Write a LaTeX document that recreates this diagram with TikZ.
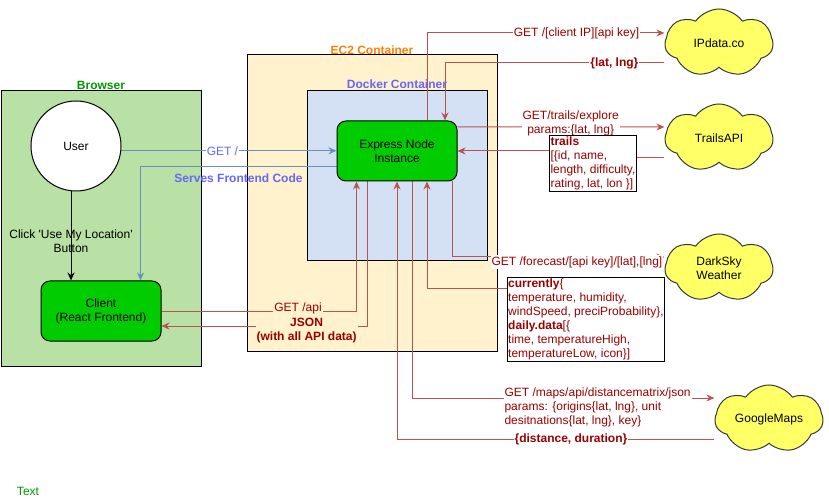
\documentclass[tikz,border=0pt]{standalone}
\usepackage{fontspec}
\setmainfont{Liberation Sans}
\usetikzlibrary{arrows.meta,shapes.symbols}
\definecolor{browserfill}{HTML}{B9E0A5}
\definecolor{ectwofill}{HTML}{FFF2CC}
\definecolor{dockerfill}{HTML}{D4E1F5}
\definecolor{nodegreen}{HTML}{00CC00}
\definecolor{cloudfill}{HTML}{FFFF66}
\definecolor{cloudline}{HTML}{36393D}
\definecolor{edgered}{HTML}{B85450}
\definecolor{textred}{HTML}{990000}
\definecolor{edgeblue}{HTML}{6C8EBF}
\definecolor{textblue}{HTML}{6666FF}
\definecolor{textorange}{HTML}{FF8000}
\definecolor{textgreen}{HTML}{009900}
\newcommand\diafont{\fontsize{12}{14}\selectfont}
\pgfdeclarelayer{boxes}
\pgfdeclarelayer{edges}
\pgfsetlayers{boxes,edges,main}
\begin{document}
\begin{tikzpicture}[x=1pt, y=-1pt, font=\diafont,
  container/.style={draw=black, line width=1pt, inner sep=0pt},
  greenbox/.style={draw=black, fill=nodegreen, rounded corners=9pt, line width=1pt, minimum width=120, minimum height=60, align=center, font=\diafont},
  service/.style={cloud, cloud puffs=7, cloud puff arc=110, cloud ignores aspect, draw=cloudline, fill=cloudfill, line width=1pt, minimum width=108, minimum height=68, align=center, font=\diafont},
  heading/.style={font=\diafont\bfseries},
  redline/.style={draw=edgered, line width=1pt},
  redarrow/.style={redline, -{Stealth[length=8pt, width=7pt]}},
  bluearrow/.style={draw=edgeblue, line width=1pt, -{Stealth[length=8pt, width=7pt]}},
  reqlabel/.style={text=textred, fill=white, inner sep=1pt, font=\diafont},
  reslabel/.style={reqlabel, font=\diafont\bfseries},
  databox/.style={draw=black, line width=1pt, fill=white, text=textred, align=left, inner xsep=1pt, inner ysep=1.5pt, anchor=west, font=\diafont}]
\useasboundingbox (0,0) rectangle (829,502);
\begin{pgfonlayer}{boxes}
\node (browser) at (101,228.5) [container, fill=browserfill, minimum width=200, minimum height=275] {};
\node (ec2) at (372,203) [container, fill=ectwofill, minimum width=250, minimum height=296] {};
\node (docker) at (397,176) [container, fill=dockerfill, minimum width=180, minimum height=170] {};
\end{pgfonlayer}
\node (browserlbl) at (101,85) [heading, text=textgreen] {Browser};
\node (ec2lbl) at (372,50) [heading, text=textorange] {EC2 Container};
\node (dockerlbl) at (397,84) [heading, text=textblue] {Docker Container};
\node (note) at (28,491.5) [text=textgreen, font=\diafont] {Text};
\node (user) at (76,146) [circle, draw=black, fill=white, line width=1pt, minimum size=90, inner sep=0pt, font=\diafont] {User};
\node (client) at (101,311) [greenbox] {Client\\(React Frontend)};
\node (express) at (397,151) [greenbox] {Express Node\\Instance};
\node (ipdata) at (719,43) [service] {IPdata.co};
\node (trails) at (719,138) [service] {TrailsAPI};
\node (darksky) at (719,268) [service] {DarkSky\\Weather};
\node (gmaps) at (769,419) [service] {GoogleMaps};
\node (trailsdata) at (549,163.5) [databox] {\textbf{trails}\\{}[\{id, name,\\length, difficulty,\\rating, lat, lon \}]};
\node (weatherdata) at (506.7,319.2) [databox] {\textbf{currently}\{\\temperature, humidity,\\windSpeed, preciProbability\},\\\textbf{daily.data}[\{\\time, temperatureHigh,\\temperatureLow, icon\}]};
\coordinate (userfoot) at ([xshift=-5pt]user.south);
\coordinate (servefrom) at ([yshift=-16pt]express.west);
\coordinate (serveto) at ([xshift=-21pt]client.north east);
\coordinate (apiin) at ([xshift=20pt]express.south west);
\coordinate (jsonout) at ([xshift=30.5pt]express.south west);
\coordinate (jsonin) at ([yshift=-15pt]client.east);
\coordinate (ipout) at ([xshift=90.5pt]express.north west);
\coordinate (ipin) at ([xshift=108.5pt]express.north west);
\coordinate (trailsin) at ([yshift=-20pt]trails.west);
\coordinate (dsout) at ([xshift=115.5pt]express.south west);
\coordinate (dsin) at ([yshift=-20pt]darksky.west);
\coordinate (dsret) at ([xshift=90.5pt]express.south west);
\coordinate (gmout) at ([xshift=76pt]express.south west);
\begin{pgfonlayer}{edges}
\draw[line width=1pt, -{Stealth[length=8pt, width=7pt]}] (userfoot) -- (userfoot |- client.north) node[midway, align=center, yshift=-5pt, font=\diafont] {Click \textquotesingle Use My Location\textquotesingle\\Button};
\draw[bluearrow] (user.-6) -- (user.-6 -| express.west) node[pos=0.47, fill=white, text=textblue, inner sep=1pt, font=\diafont] {GET /};
\draw[bluearrow] (servefrom) -| (serveto) node[pos=0.25, below=3pt, heading, text=textblue] {Serves Frontend Code};
\draw[redarrow] (client.east) -| (apiin) node[pos=0.35, fill=ectwofill, text=textred, inner sep=1pt, yshift=3pt, font=\diafont] {GET /api};
\draw[redarrow] (jsonout) |- (jsonin) node[pos=0.647, fill=ectwofill, text=textred, heading, align=center, inner sep=1pt, yshift=-5pt] {JSON\\(with all API data)};
\draw[redarrow] (ipout) |- ([yshift=10pt]ipdata.west) node[pos=0.815, reqlabel] {GET /[client IP][api key]};
\draw[redarrow] ([yshift=-20pt]ipdata.west) -| (ipin) node[pos=0.114, reslabel] {\{lat, lng\}};
\draw[redarrow] ([yshift=24pt]express.east) -- ([yshift=11pt]trails.west) node[pos=0.547, reqlabel, align=center, yshift=4pt] {GET/trails/explore\\params:\{lat, lng\}};
\draw[redline] (trailsin) -- (trailsin -| trailsdata.east);
\draw[redarrow] (trailsdata.west |- express.east) -- (express.east);
\draw[redarrow] (dsout) |- ([yshift=11pt]darksky.west) node[pos=0.794, reqlabel, yshift=-5pt] {GET /forecast/[api key]/[lat],[lng]};
\draw[redline] (dsin) -- (dsin -| weatherdata.east);
\draw[redarrow] (dsin -| weatherdata.west) -| (dsret);
\draw[redarrow] (gmout) |- ([yshift=21pt]gmaps.west) node[pos=0.65, reqlabel, anchor=north west, align=left, yshift=12pt] {GET /maps/api/distancematrix/json\\params: \{origins\{lat, lng\}, unit\\desitnations\{lat, lng\}, key\}};
\draw[redarrow] ([yshift=-20pt]gmaps.west) -| (express.south) node[pos=0.226, reslabel] {\{distance, duration\}};
\end{pgfonlayer}
\end{tikzpicture}
\end{document}
